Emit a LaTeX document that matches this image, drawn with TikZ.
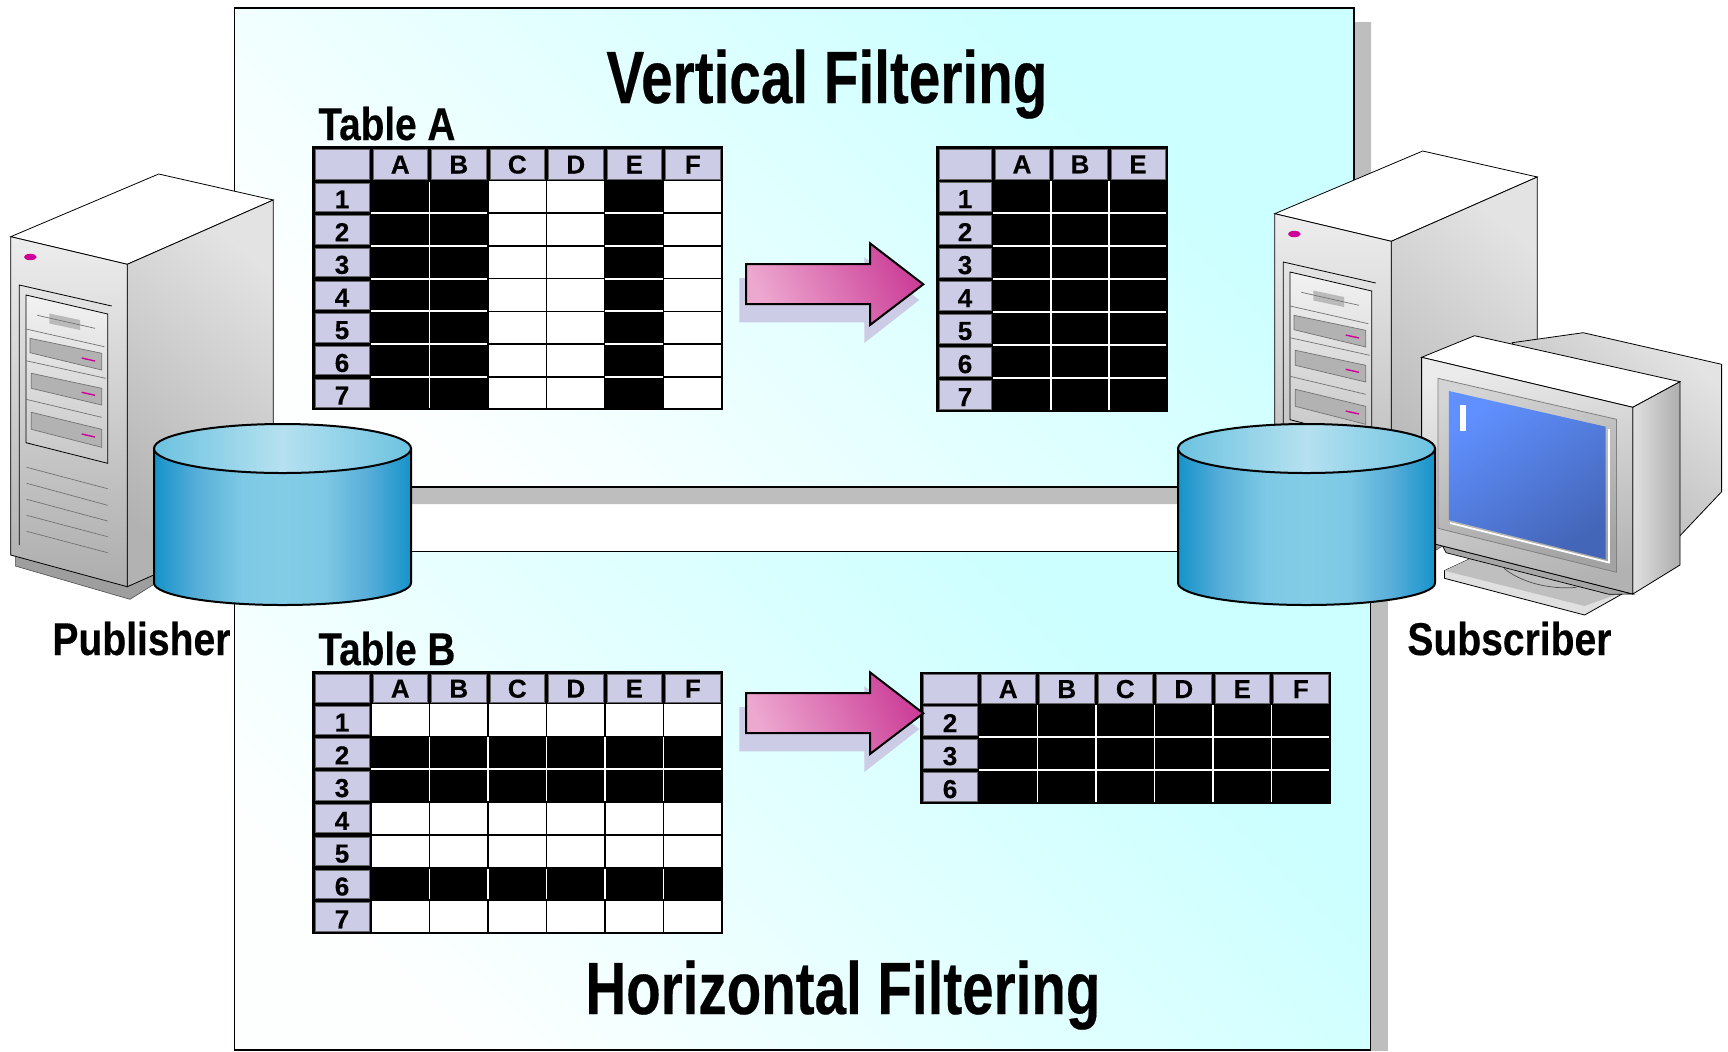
\documentclass[tikz,border=0pt]{standalone}
\usepackage{fontspec}
\usepackage{graphicx}
\setmainfont[BoldFeatures={FakeBold=0.35}]{Liberation Sans}
\definecolor{lav}{HTML}{CCCCE6}
\definecolor{panelhi}{HTML}{CCFFFF}
\definecolor{panello}{HTML}{FDFFFF}
\definecolor{shadowgray}{HTML}{BEBEBE}
\definecolor{cylout}{HTML}{1593CB}
\definecolor{cylq}{HTML}{55ADD8}
\definecolor{cylmid}{HTML}{82CCE6}
\definecolor{cyltopout}{HTML}{6CC2E0}
\definecolor{cyltopmid}{HTML}{B5E1F0}
\definecolor{arrowhi}{HTML}{CC3F98}
\definecolor{arrowlo}{HTML}{EDA8D0}
\definecolor{ledpink}{HTML}{CC0099}
\definecolor{scrhi}{HTML}{6090FF}
\definecolor{scrlo}{HTML}{4466B8}
\pgfdeclareverticalshading{panelshade}{100bp}{color(0bp)=(panello);color(25bp)=(panello);color(70bp)=(panelhi);color(100bp)=(panelhi)}
\pgfdeclarehorizontalshading{cylbody}{100bp}{color(0bp)=(cylout);color(25bp)=(cylout);color(33bp)=(cylq);color(42bp)=(cylmid!90!cylq);color(50bp)=(cylmid);color(58bp)=(cylmid!90!cylq);color(67bp)=(cylq);color(75bp)=(cylout);color(100bp)=(cylout)}
\tikzset{
  x=0.5pt,y=-0.5pt,
  panel/.style={draw=black,line width=0.6pt,shading=panelshade,shading angle=-45},
  lavcell/.style={fill=lav,draw=black!60,line width=0.35pt},
  celltext/.style={font=\bfseries\fontsize{13}{13}\selectfont,inner sep=0pt,anchor=center,yshift=-0.4pt},
  rowtext/.style={celltext,yshift=-0.9pt},
  title/.style={inner sep=0pt,anchor=base west,font=\bfseries\fontsize{37}{37}\selectfont},
  label/.style={inner sep=0pt,anchor=base west,font=\bfseries\fontsize{23}{23}\selectfont},
  facefront/.style={draw=black,line width=0.4pt,top color=black!7!white,bottom color=black!32!white},
  faceside/.style={draw=black,line width=0.4pt,top color=black!11!white,bottom color=black!30!white,shading angle=-40},
  thin gray/.style={draw=black!55,line width=0.35pt},
  drive/.style={fill=black!30,draw=black!55,line width=0.35pt},
  pinkline/.style={draw=ledpink,line width=0.7pt},
}
% width-fitted (condensed) text
\newcommand{\fitw}[2]{\resizebox{#1}{\height}{#2}}
% table: name, x0, x of data start, col width, y top, y header bottom, row height, col list, row list
\newcommand{\mytable}[9]{%
  \foreach \cc/\fc [count=\ii from 0, remember=\fc as \pfc (initially 0)] in {#8}{%
    \pgfmathsetmacro{\xa}{#3+#4*\ii}%
    \pgfmathsetmacro{\xb}{\xa+#4}%
    \fill[black] (\xa,#5) rectangle (\xb,#6);
    \path[lavcell] (\xa+2,#5+2) rectangle (\xb-2,#6-1);
    \node[celltext] (#1c\ii) at ({(\xa+\xb)/2},{(#5+#6)/2}) {\cc};
    \foreach \rr/\fr [count=\jj from 0, remember=\fr as \pfr (initially 0)] in {#9}{%
      \pgfmathsetmacro{\ya}{#6+#7*\jj}%
      \pgfmathsetmacro{\yb}{\ya+#7}%
      \ifnum\numexpr\fc+\fr\relax>0
        \fill[black] (\xa,\ya) rectangle (\xb,\yb);
        \ifnum\ii>0 \ifnum\numexpr\pfc+\fr\relax>0
          \draw[white,line width=0.9pt] (\xa,\ya+1) -- (\xa,\yb-1);
        \fi\fi
        \ifnum\jj>0 \ifnum\numexpr\fc+\pfr\relax>0
          \draw[white,line width=0.9pt] (\xa,\ya) -- (\xb,\ya);
        \fi\fi
      \else
        \path[fill=white,draw=black,line width=0.8pt] (\xa,\ya) rectangle (\xb,\yb);
      \fi
    }
  }
  \fill[black] (#2,#5) rectangle (#3,#6);
  \path[lavcell] (#2+2,#5+2) rectangle (#3-2,#6-1);
  \foreach \rr/\fr [count=\jj from 0] in {#9}{%
    \pgfmathsetmacro{\ya}{#6+#7*\jj}%
    \pgfmathsetmacro{\yb}{\ya+#7}%
    \fill[black] (#2,\ya) rectangle (#3,\yb);
    \path[lavcell] (#2+2,\ya+2.5) rectangle (#3-2,\yb-2);
    \node[rowtext] (#1r\jj) at ({(#2+#3)/2},{(\ya+\yb)/2}) {\rr};
  }
}
\newcommand{\tableframe}[4]{\draw[black,line width=1pt] (#1,#2) rectangle (#3,#4);}
\newcommand{\myarrow}[1]{%
  \begin{scope}[yshift=#1]
    \fill[lav] (739.3,278) -- (864.3,278) -- (864.3,257) -- (919.3,300) -- (864.3,343) -- (864.3,322.3) -- (739.3,322.3) -- cycle;
    \path[draw=black,line width=1pt,line join=miter,top color=arrowhi,bottom color=arrowlo,shading angle=-65]
      (746,264) -- (870,264) -- (870,243.3) -- (923.3,284.3) -- (870,325) -- (870,304) -- (746,304) -- cycle;
  \end{scope}}
\newcommand{\myserver}{%
  % base
  \path[fill=black!38,draw=black!70,line width=0.3pt] (15.3,556) -- (15.3,566) -- (130,599.3) -- (273,510) -- (273,480) -- cycle;
  % top
  \path[fill=white,draw=black,line width=0.4pt] (10.7,236.7) -- (158.7,174) -- (273.3,200) -- (127.3,264.3) -- cycle;
  % side
  \path[faceside] (127.3,264.3) -- (273.3,200) -- (273.3,522) -- (127.3,586.7) -- cycle;
  % front
  \path[facefront] (10.7,236.7) -- (127.3,264.3) -- (127.3,586.7) -- (10.7,555) -- cycle;
  \fill[ledpink] (30.3,257) ellipse [x radius=3.2pt,y radius=1.6pt];
  \draw[black,line width=0.4pt] (111.7,306) -- (19.3,285) -- (19.3,545);
  \path[draw=black,line width=0.4pt,top color=black!5!white,bottom color=black!22!white] (26,295) -- (107.7,314) -- (107.7,463.3) -- (26,442.7) -- cycle;
  \fill[black!27] (49.3,313.5) -- (80,320) -- (80,330) -- (49.3,323.5) -- cycle;
  \path[thin gray] (37.3,315.3) -- (95,328.3);
  \path[thin gray] (26,329) -- (104.3,346.7);
  \path[drive] (30,338.3) -- (101.7,353.3) -- (101.7,370) -- (30,352.7) -- cycle;
  \path[pinkline] (81.7,358) -- (95,361);
  \path[thin gray] (26,360.7) -- (105.7,378.3);
  \path[drive] (31.3,373.3) -- (101.7,388.3) -- (101.7,405) -- (31.3,388.3) -- cycle;
  \path[pinkline] (81.7,392.3) -- (95,395.3);
  \path[thin gray] (26,399.3) -- (101.7,417.3);
  \path[drive] (31.3,412.3) -- (101.7,429.3) -- (101.7,447.3) -- (31.3,429.3) -- cycle;
  \path[pinkline] (81.7,434) -- (95,437);
  \foreach \yy/\zz in {467.3/488.7,483.3/505.3,499.3/521,515.3/536.7,531.3/552.7}{\path[thin gray] (26.7,\yy) -- (107.7,\zz);}
}
\newcommand{\mycyl}[1]{%
  \path[draw=black,line width=1pt,shading=cylbody]
    (#1-128.5,448.5) -- (#1-128.5,583) arc[start angle=180,end angle=360,x radius=64.25pt,y radius=11pt] -- (#1+128.5,448.5) -- cycle;
  \path[draw=black,line width=1pt,left color=cyltopout,right color=cyltopout,middle color=cyltopmid]
    (#1,448.5) ellipse [x radius=64.25pt,y radius=12.25pt];
}
\begin{document}
\begin{tikzpicture}
\useasboundingbox (0,0) rectangle (1728,1051);
% panel shadows
\fill[shadowgray] (1354,22) -- (1371,22) -- (1371,504) -- (250,504) -- (250,487) -- (1354,487) -- cycle;
\fill[shadowgray] (1370,560) rectangle (1388,1051);
% panels
\path[panel] (234.7,8) rectangle (1354,487);
\path[panel] (234.7,551.5) rectangle (1370.5,1050);
% titles
\node[title] (titleV) at (606,103) {\fitw{220.5pt}{Vertical Filtering}};
\node[title] (titleH) at (585,1014) {\fitw{257.5pt}{Horizontal Filtering}};
\node[label] (labA) at (318,140) {\fitw{68.5pt}{Table A}};
\node[label] (labB) at (318,665) {\fitw{68.5pt}{Table B}};
% tables
\mytable{ta}{313}{371}{58.5}{147}{180.5}{32.7}{A/1,B/1,C/0,D/0,E/1,F/0}{1/0,2/0,3/0,4/0,5/0,6/0,7/0}
\tableframe{313}{147}{722}{409}
\mytable{tb}{313}{371}{58.5}{672.3}{703.5}{32.8}{A/0,B/0,C/0,D/0,E/0,F/0}{1/0,2/1,3/1,4/0,5/0,6/1,7/0}
\tableframe{313}{672.3}{722}{933.3}
\mytable{tc}{937}{993}{58}{147}{180}{33}{A/1,B/1,E/1}{1/0,2/0,3/0,4/0,5/0,6/0,7/0}
\tableframe{937}{147}{1167}{411}
\mytable{td}{921}{979}{58.5}{672.5}{704}{33}{A/0,B/0,C/0,D/0,E/0,F/0}{2/1,3/1,6/1}
\tableframe{921}{672.5}{1330}{803}
% arrows
\myarrow{0pt}
\myarrow{-214.5pt}
% publisher server
\myserver
% subscriber server
\begin{scope}[shift={(1264,-23)}]
\myserver
\end{scope}
% monitor
\path[faceside] (1512.2,342.7) -- (1583.2,332.7) -- (1721.6,364.3) -- (1721.6,491.7) -- (1680,535.7) -- (1560,420) -- cycle;
\path[draw=black,fill=black!12,line width=0.4pt] (1444.4,570.7) -- (1470.9,558.3) -- (1623.8,593) -- (1584.6,615) -- (1444.4,578.3) -- cycle;
\path[fill=black!25] (1444.4,570.7) -- (1470.9,558.3) -- (1615,595) -- (1584.6,606) -- cycle;
\draw[black!70,line width=0.35pt] (1504,568.3) .. controls (1520,582) and (1550,590) .. (1576.7,587.3);
\path[draw=black,fill=black!35,line width=0.35pt] (1442.6,546) -- (1446,552.7) -- (1609,594.3) -- (1632.8,594) -- cycle;
\path[fill=white,draw=black,line width=0.4pt] (1421.6,357.3) -- (1474.5,335.7) -- (1680,381.7) -- (1632.8,407.3) -- cycle;
\path[draw=black,line width=0.4pt,left color=black!12,right color=black!32] (1632.8,407.3) -- (1680,381.7) -- (1680,565) -- (1632.8,594) -- cycle;
\path[draw=black,line width=0.4pt,top color=black!8,bottom color=black!30,shading angle=15] (1421.6,357.3) -- (1632.8,407.3) -- (1632.8,594) -- (1421.6,540.7) -- cycle;
\path[draw=black!50,line width=0.4pt,top color=black!17,bottom color=black!36,shading angle=20] (1437.9,378.3) -- (1616.5,419.3) -- (1616.5,572.3) -- (1437.9,528.3) -- cycle;
\path[top color=scrhi,bottom color=scrlo,shading angle=35] (1448.8,391) -- (1605.7,426.7) -- (1605.7,559.3) -- (1448.8,520) -- cycle;
\draw[white,line width=0.9pt] (1609,429) -- (1609,562.5) -- (1450,523);
\fill[white] (1460,405.3) rectangle (1465.8,430.7);
% cylinders
\mycyl{282.5}
\mycyl{1306.5}
% labels
\node[label] (pub) at (52,655) {\fitw{89pt}{Publisher}};
\node[label] (sub) at (1407,655) {\fitw{102pt}{Subscriber}};
\end{tikzpicture}
\end{document}
